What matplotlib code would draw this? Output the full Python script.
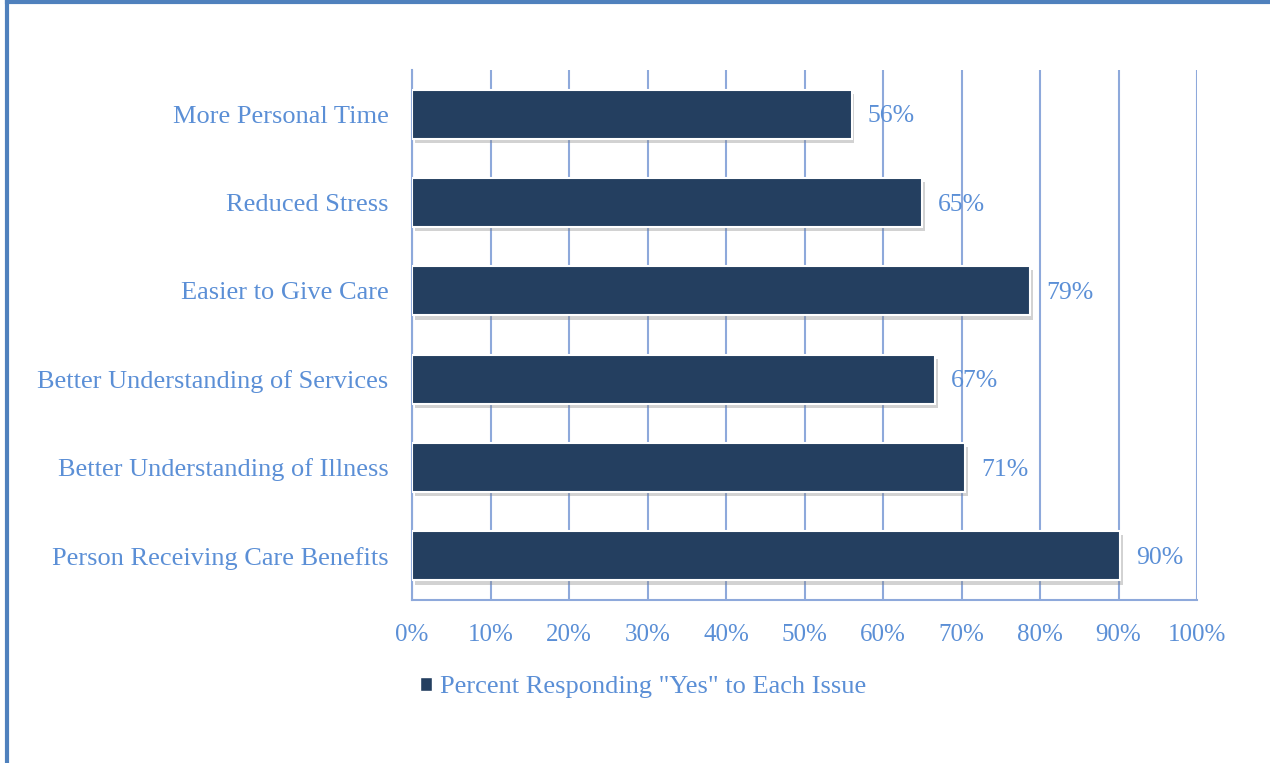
import matplotlib.pyplot as plt
import matplotlib.patheffects as pe
from matplotlib.lines import Line2D
from matplotlib.patches import Patch

# chart data (bottom to top as drawn)
categories = ["Person Receiving Care Benefits", "Better Understanding of Illness",
              "Better Understanding of Services", "Easier to Give Care",
              "Reduced Stress", "More Personal Time"]
values = [90, 71, 67, 79, 65, 56]
bar_lengths = [90.2, 70.5, 66.6, 78.7, 65.0, 56.0]
x_ticks = [0, 10, 20, 30, 40, 50, 60, 70, 80, 90, 100]
series_name = 'Percent Responding "Yes" to Each Issue'

# styling
BAR_COLOR = "#243F60"
TEXT_COLOR = "#5B8FD6"
GRID_COLOR = "#8EA9DB"
FRAME_COLOR = "#4F81BD"
FONT = "Liberation Serif"

W, H = 1270, 763
fig = plt.figure(figsize=(W / 100, H / 100), dpi=100)
ax = fig.add_axes([412 / W, 1 - 600 / H, (1197 - 412) / W, (600 - 70) / H])

ypos = list(range(len(categories)))
bars = ax.barh(ypos, bar_lengths, height=0.555, color=BAR_COLOR,
               edgecolor="white", linewidth=1.5, zorder=3)
for b in bars:
    b.set_path_effects([pe.SimplePatchShadow(offset=(2, -3), shadow_rgbFace="#808080", alpha=0.35),
                        pe.Normal()])

for y, length, v in zip(ypos, bar_lengths, values):
    ax.annotate(f"{v}%", (length, y), xytext=(11.5, -1.5), textcoords="offset points",
                va="center", ha="left", color=TEXT_COLOR, fontsize=18.5, family=FONT, zorder=4)

ax.set_xlim(0, 100)
ax.set_ylim(-0.5, len(categories) - 0.5)
ax.set_xticks(x_ticks)
ax.set_xticklabels([f"{t}%" for t in x_ticks])
ax.set_yticks(ypos)
ax.set_yticklabels(categories)
ax.grid(axis="x", color=GRID_COLOR, linewidth=1.5, zorder=0)
ax.set_axisbelow(True)

for side in ["top", "right"]:
    ax.spines[side].set_visible(False)
for side in ["left", "bottom"]:
    ax.spines[side].set_color(GRID_COLOR)
    ax.spines[side].set_linewidth(1.5)

ax.tick_params(axis="x", length=0, pad=17, labelcolor=TEXT_COLOR, labelsize=18)
ax.tick_params(axis="y", length=0, pad=17, labelcolor=TEXT_COLOR, labelsize=19)
for lbl in ax.get_xticklabels() + ax.get_yticklabels():
    lbl.set_family(FONT)

handle = Patch(facecolor=BAR_COLOR, edgecolor="white")
leg = fig.legend([handle], [series_name], loc="center", bbox_to_anchor=(643 / W, 1 - 687 / H),
                 frameon=False, handlelength=0.45, handleheight=0.45, handletextpad=0.3,
                 prop={"family": FONT, "size": 19})
for t in leg.get_texts():
    t.set_color(TEXT_COLOR)

# outer frame (left and top edges visible)
fig.add_artist(Line2D([6.5 / W, 6.5 / W], [0, 1 - 1.5 / H], color=FRAME_COLOR, linewidth=3))
fig.add_artist(Line2D([6.5 / W, 1], [1 - 1.5 / H, 1 - 1.5 / H], color=FRAME_COLOR, linewidth=3))

fig.savefig("out.png", dpi=100, facecolor="white")
